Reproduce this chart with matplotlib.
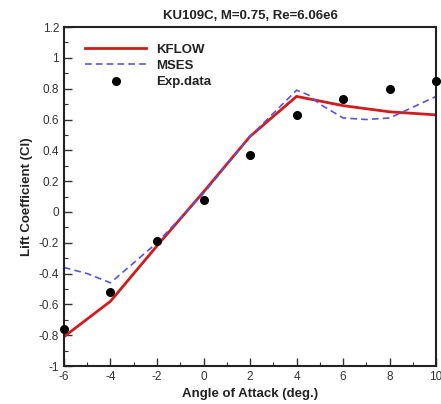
import numpy as np
import matplotlib
matplotlib.use("Agg")
import matplotlib.pyplot as plt
from matplotlib.ticker import MultipleLocator, FuncFormatter

# KFLOW computation
kflow_alpha = [-6, -4, -2, 0, 2, 4, 6, 8, 10]
kflow_cl = [-0.81, -0.58, -0.22, 0.13, 0.49, 0.75, 0.69, 0.65, 0.63]

# MSES computation
mses_alpha = [-6, -5, -4, -2, 0, 2, 4, 4.5, 5, 6, 7, 8, 9, 10]
mses_cl = [-0.36, -0.40, -0.46, -0.20, 0.12, 0.49, 0.79, 0.76, 0.70, 0.61, 0.60, 0.61, 0.68, 0.75]

# experiment
exp_alpha = [-6, -4, -2, 0, 2, 4, 6, 8, 10]
exp_cl = [-0.76, -0.52, -0.19, 0.08, 0.37, 0.63, 0.73, 0.80, 0.85]

plt.rcParams["font.family"] = ["Liberation Sans", "DejaVu Sans"]

fig = plt.figure(figsize=(4.41, 4.04), dpi=100)
ax = fig.add_axes([0.145, 0.094, 0.844, 0.839])

ax.plot(kflow_alpha, kflow_cl, color="#d01c1c", lw=2.0, label="KFLOW")
ax.plot(mses_alpha, mses_cl, color="#5555dd", lw=1.2, ls=(0, (4, 2.5)), label="MSES")
ax.plot(exp_alpha, exp_cl, "o", color="black", ms=5.5, ls="none",
        label="Exp.data", clip_on=False, zorder=5)

ax.set_xlim(-6, 10)
ax.set_ylim(-1, 1.2)
ax.xaxis.set_major_locator(MultipleLocator(2))
ax.xaxis.set_minor_locator(MultipleLocator(1))
ax.yaxis.set_major_locator(MultipleLocator(0.2))
ax.yaxis.set_minor_locator(MultipleLocator(0.1))
fmt = FuncFormatter(lambda v, p: "%g" % round(v, 2))
ax.xaxis.set_major_formatter(fmt)
ax.yaxis.set_major_formatter(fmt)
ax.tick_params(which="both", direction="in", top=False, right=False,
               labelsize=8.5, colors="#333333")
ax.tick_params(which="major", length=6, width=1.0)
ax.tick_params(which="minor", length=3, width=0.8)
for s in ax.spines.values():
    s.set_linewidth(1.5)
    s.set_color("#222222")

ax.set_xlabel("Angle of Attack (deg.)", fontsize=9.5, fontweight="bold", color="#222222")
ax.set_ylabel("Lift Coefficient (Cl)", fontsize=9.5, fontweight="bold", color="#222222")
ax.set_title("KU109C, M=0.75, Re=6.06e6", fontsize=9.5, fontweight="bold",
             color="#222222", pad=6)

leg = ax.legend(loc="upper left", frameon=False, fontsize=9.5, handlelength=4.6,
                borderaxespad=0.6, labelspacing=0.3, bbox_to_anchor=(0.022, 0.99))
for t in leg.get_texts():
    t.set_fontweight("bold")
    t.set_color("#222222")

fig.savefig("out.png", dpi=100)
